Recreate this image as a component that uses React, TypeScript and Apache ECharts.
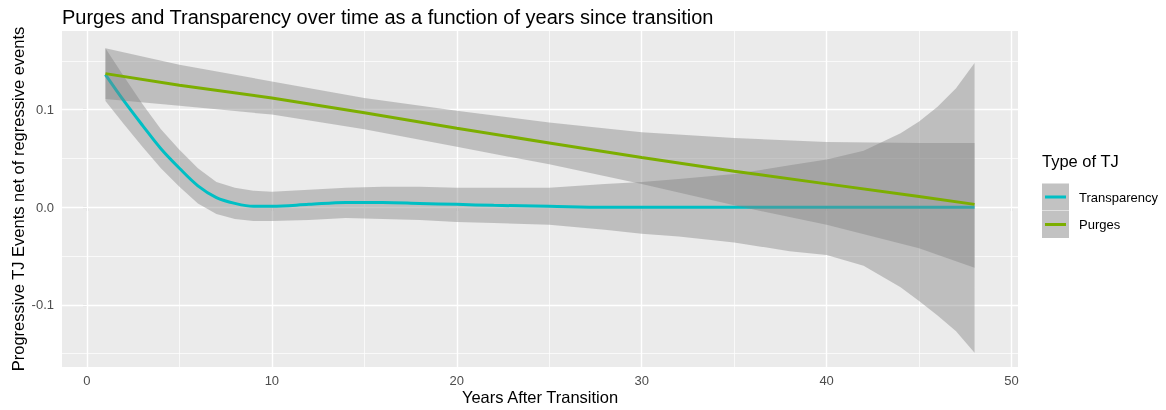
import React, { useEffect, useRef } from 'react';
import * as echarts from 'echarts';

// Transparency (loess fit with confidence band)
const transX = [1, 2, 3, 4, 5, 6, 7, 8, 9, 10, 12, 14, 16, 18, 20, 22, 25, 28, 30, 32, 35, 38, 40, 42, 44, 45, 46, 47, 48];
const transFit = [0.136, 0.109, 0.084, 0.060, 0.040, 0.022, 0.010, 0.004, 0.001, 0.001, 0.003, 0.005, 0.005, 0.004, 0.003, 0.002, 0.001, 0.000, 0.000, 0.000, 0.000, 0.000, 0.000, 0.000, 0.000, 0.000, 0.000, 0.000, 0.000];
const transUpper = [0.163, 0.134, 0.106, 0.080, 0.059, 0.040, 0.026, 0.020, 0.017, 0.016, 0.018, 0.020, 0.021, 0.021, 0.020, 0.020, 0.020, 0.024, 0.026, 0.029, 0.034, 0.043, 0.049, 0.058, 0.076, 0.088, 0.103, 0.122, 0.148];
const transLower = [0.109, 0.085, 0.062, 0.040, 0.021, 0.004, -0.007, -0.012, -0.014, -0.014, -0.013, -0.011, -0.012, -0.013, -0.015, -0.016, -0.018, -0.023, -0.027, -0.030, -0.036, -0.045, -0.049, -0.060, -0.082, -0.096, -0.111, -0.127, -0.149];

// Purges (linear fit with confidence band)
const purgesX = [1, 5, 10, 15, 20, 25, 30, 35, 40, 45, 48];
const purgesFit = [0.137, 0.125, 0.112, 0.097, 0.081, 0.066, 0.051, 0.037, 0.024, 0.011, 0.003];
const purgesUpper = [0.163, 0.146, 0.129, 0.112, 0.099, 0.087, 0.077, 0.071, 0.067, 0.066, 0.066];
const purgesLower = [0.111, 0.104, 0.095, 0.080, 0.062, 0.044, 0.024, 0.002, -0.018, -0.042, -0.062];

// Axes
const xMajor = [0, 10, 20, 30, 40, 50];
const xMinor = [5, 15, 25, 35, 45];
const xTickLabels = ['0', '10', '20', '30', '40', '50'];
const yMajor = [-0.1, 0, 0.1];
const yMinor = [-0.15, -0.05, 0.05, 0.15];
const yTickLabels = ['-0.1', '0.0', '0.1'];

const legendTitle = 'Type of TJ';
const seriesNames = ['Transparency', 'Purges'];
const seriesColors = ['#00BFC4', '#7CAE00'];

const FONT = '"Liberation Sans", Arial, Helvetica, sans-serif';
const RIBBON = 'rgba(128,128,128,0.42)';
const PANEL = '#EBEBEB';

function ribbon(name: string, xs: number[], lo: number[], hi: number[], z: number) {
  return {
    type: 'custom',
    name: name + ' band',
    z,
    silent: true,
    clip: true,
    data: xs.map((x, i) => [x, lo[i], hi[i]]),
    encode: { x: 0, y: [1, 2] },
    renderItem: (params: any, api: any) => {
      if (params.dataIndex !== 0) return null;
      const top = xs.map((x, i) => api.coord([x, hi[i]]));
      const bot = xs.map((x, i) => api.coord([x, lo[i]])).reverse();
      return { type: 'polygon', shape: { points: top.concat(bot) }, style: { fill: RIBBON } };
    },
  };
}

export default function App() {
  const ref = useRef<HTMLDivElement>(null);
  useEffect(() => {
    if (!ref.current) return;
    const chart = echarts.init(ref.current, null, { renderer: 'svg' });
    const majorStyle = { color: '#FFFFFF', width: 1.4, type: 'solid' };
    const minorStyle = { color: '#FFFFFF', width: 0.7, type: 'solid' };
    const gridLines = [
      ...xMinor.map((v) => ({ xAxis: v, lineStyle: minorStyle })),
      ...yMinor.map((v) => ({ yAxis: v, lineStyle: minorStyle })),
      ...xMajor.map((v) => ({ xAxis: v, lineStyle: majorStyle })),
      ...yMajor.map((v) => ({ yAxis: v, lineStyle: majorStyle })),
    ];
    chart.setOption({
      animation: false,
      textStyle: { fontFamily: FONT },
      title: {
        text: 'Purges and Transparency over time as a function of years since transition',
        left: 57,
        top: 2,
        textStyle: { fontFamily: FONT, fontSize: 20, fontWeight: 'normal', color: '#000' },
      },
      grid: {
        left: 62,
        top: 31,
        width: 956,
        height: 336,
        show: true,
        backgroundColor: PANEL,
        borderWidth: 0,
        containLabel: false,
        outerBoundsMode: 'none',
      },
      xAxis: {
        type: 'value',
        min: -1.35,
        max: 50.35,
        name: 'Years After Transition',
        nameLocation: 'middle',
        nameGap: 21,
        nameMoveOverlap: false,
        nameTextStyle: { fontFamily: FONT, fontSize: 16.5, color: '#000' },
        axisLine: { show: false },
        axisTick: { show: true, length: 4, customValues: xMajor, lineStyle: { color: '#333333', width: 1.1 } },
        axisLabel: {
          customValues: xMajor,
          margin: 7,
          fontSize: 13,
          color: '#4D4D4D',
          fontFamily: FONT,
          formatter: (v: number) => xTickLabels[xMajor.indexOf(v)] ?? '',
        },
        splitLine: { show: false },
      },
      yAxis: {
        type: 'value',
        min: -0.1637,
        max: 0.1807,
        name: 'Progressive TJ Events net of regressive events',
        nameLocation: 'middle',
        nameRotate: 90,
        nameGap: 36,
        nameMoveOverlap: false,
        nameTextStyle: { fontFamily: FONT, fontSize: 16.5, color: '#000' },
        axisLine: { show: false },
        axisTick: { show: true, length: 4, customValues: yMajor, lineStyle: { color: '#333333', width: 1.1 } },
        axisLabel: {
          customValues: yMajor,
          margin: 8,
          fontSize: 13,
          color: '#4D4D4D',
          fontFamily: FONT,
          formatter: (v: number) => {
            const i = yMajor.findIndex((m) => Math.abs(m - v) < 1e-9);
            return i >= 0 ? yTickLabels[i] : '';
          },
        },
        splitLine: { show: false },
      },
      series: [
        {
          type: 'line',
          name: 'grid',
          z: 1,
          silent: true,
          data: [[0, 0]],
          showSymbol: false,
          lineStyle: { opacity: 0 },
          markLine: {
            z: 1,
            silent: true,
            symbol: ['none', 'none'],
            label: { show: false },
            animation: false,
            data: gridLines,
          },
        },
        ribbon(seriesNames[0], transX, transLower, transUpper, 2),
        {
          type: 'line',
          name: seriesNames[0],
          z: 3,
          data: transX.map((x, i) => [x, transFit[i]]),
          showSymbol: false,
          smooth: 0.35,
          lineStyle: { color: seriesColors[0], width: 3 },
          itemStyle: { color: seriesColors[0] },
        },
        ribbon(seriesNames[1], purgesX, purgesLower, purgesUpper, 4),
        {
          type: 'line',
          name: seriesNames[1],
          z: 5,
          data: purgesX.map((x, i) => [x, purgesFit[i]]),
          showSymbol: false,
          lineStyle: { color: seriesColors[1], width: 3 },
          itemStyle: { color: seriesColors[1] },
        },
      ],
      graphic: [
        {
          type: 'text',
          left: 1042,
          top: 152,
          style: { text: legendTitle, font: `16.5px ${FONT}`, fill: '#000' },
        },
        ...seriesNames.flatMap((name, i) => [
          { type: 'rect', shape: { x: 1042, y: 183.5 + i * 27.5, width: 27, height: 27 }, style: { fill: '#F2F2F2' } },
          { type: 'rect', shape: { x: 1042, y: 183.5 + i * 27.5, width: 27, height: 27 }, style: { fill: RIBBON } },
          {
            type: 'line',
            shape: { x1: 1045, y1: 197 + i * 27.5, x2: 1066, y2: 197 + i * 27.5 },
            style: { stroke: seriesColors[i], lineWidth: 3 },
          },
          {
            type: 'text',
            x: 1079,
            y: 197 + i * 27.5,
            style: { text: name, font: `13px ${FONT}`, fill: '#000', verticalAlign: 'middle', align: 'left' },
          },
        ]),
      ],
    });
    return () => chart.dispose();
  }, []);
  return <div ref={ref} style={{ position: 'fixed', left: 0, top: 0, width: 1166, height: 410 }} />;
}
